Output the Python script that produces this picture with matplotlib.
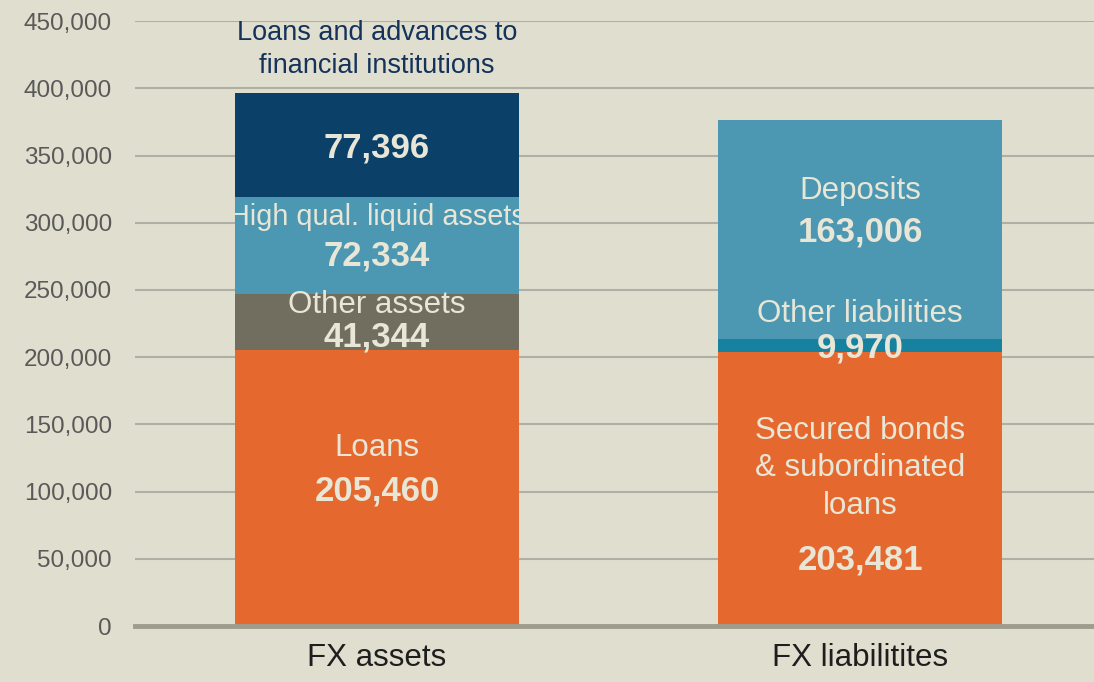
import numpy as np
import matplotlib.pyplot as plt
from matplotlib.ticker import FuncFormatter

plt.rcParams["font.family"] = ["Liberation Sans", "DejaVu Sans"]

# ── data ──────────────────────────────────────────────────────────────────────
categories = ["FX assets", "FX liabilitites"]

asset_names  = ["Loans", "Other assets", "High qual. liquid assets",
                "Loans and advances to\nfinancial institutions"]
asset_values = [205460, 41344, 72334, 77396]

liab_names  = ["Secured bonds\n& subordinated\nloans", "Other liabilities", "Deposits"]
liab_values = [203481, 9970, 163006]

# ── style ─────────────────────────────────────────────────────────────────────
BG        = "#e0dfcf"
ORANGE    = "#e5692e"
NAVY      = "#0b4068"
TEAL      = "#4c98b2"
GREYSEG   = "#716e60"
DEEPTEAL  = "#17829f"
LABEL     = "#e8e6d6"

asset_colors = [ORANGE, GREYSEG, TEAL, NAVY]
liab_colors  = [ORANGE, DEEPTEAL, TEAL]

fig = plt.figure(figsize=(10.94, 6.82), dpi=100)
fig.patch.set_facecolor(BG)
ax = fig.add_axes([0.1234, 0.0821, 0.8766, 0.887])
ax.set_facecolor(BG)

width = 0.588
x = np.arange(len(categories))

# stacked bars
asset_bars = []
bottom = 0
for v, c in zip(asset_values, asset_colors):
    asset_bars.append(ax.bar(x[0], v, width, bottom=bottom, color=c, zorder=3)[0])
    bottom += v
bottom = 0
for v, c in zip(liab_values, liab_colors):
    ax.bar(x[1], v, width, bottom=bottom, color=c, zorder=3)
    bottom += v

# ── segment labels ────────────────────────────────────────────────────────────
a_start = np.concatenate([[0], np.cumsum(asset_values)[:-1]])
a_mid   = a_start + np.array(asset_values) / 2
l_start = np.concatenate([[0], np.cumsum(liab_values)[:-1]])
l_mid   = l_start + np.array(liab_values) / 2

name_kw = dict(ha="center", va="center", color=LABEL, fontsize=22.5, zorder=4)
num_kw  = dict(ha="center", va="center", color=LABEL, fontsize=25,
               fontweight="bold", zorder=4)
d = -2000  # small vertical nudge

# loans
ax.text(x[0], a_mid[0] + 32000 + d, asset_names[0], **name_kw)
ax.text(x[0], a_mid[0] + d, f"{asset_values[0]:,}", **num_kw)
# other assets
ax.text(x[0], a_mid[1] + 15000 + d, asset_names[1], **name_kw)
ax.text(x[0], a_mid[1] - 9500 + d, f"{asset_values[1]:,}", **num_kw)
# hqla (clipped to its bar, as in the original)
t = ax.text(x[0], a_mid[2] + 23000 + d, asset_names[2], clip_on=True,
            **{**name_kw, "fontsize": 20.8})
t.set_clip_path(asset_bars[2])
ax.text(x[0], a_mid[2] - 5500 + d, f"{asset_values[2]:,}", **num_kw)
# loans to FI
ax.text(x[0], a_mid[3] + d, f"{asset_values[3]:,}", **num_kw)
ax.text(x[0], 429000, asset_names[3], ha="center", va="center",
        color="#14325a", fontsize=19.5, linespacing=1.35, zorder=4)

# liabilities
ax.text(x[1], a_mid[0] + 14500, liab_names[0], linespacing=1.32, **name_kw)
ax.text(x[1], l_mid[0] - 51000 + d, f"{liab_values[0]:,}", **num_kw)
ax.text(x[1], l_mid[1] + 26000 + d, liab_names[1], **name_kw)
ax.text(x[1], l_mid[1] + d, f"{liab_values[1]:,}", **num_kw)
ax.text(x[1], l_mid[2] + 31000 + d, liab_names[2], **name_kw)
ax.text(x[1], l_mid[2] + d, f"{liab_values[2]:,}", **num_kw)

# ── axes ──────────────────────────────────────────────────────────────────────
ax.set_xlim(-0.501, 1.484)
ax.set_ylim(0, 450000)
ax.set_yticks(np.arange(0, 450001, 50000))
ax.yaxis.set_major_formatter(FuncFormatter(lambda v, p: f"{int(v):,}"))
ax.set_xticks(x)
ax.set_xticklabels(categories, fontsize=22.5, color="#1e1e1e")
ax.tick_params(axis="y", length=0, labelsize=17.5, labelcolor="#595959", pad=16.5)
ax.tick_params(axis="x", length=0, pad=12)

ax.grid(axis="y", color="#b0afa6", linewidth=1.5, zorder=0)
ax.set_axisbelow(True)
for s in ("top", "right", "left"):
    ax.spines[s].set_visible(False)
ax.spines["bottom"].set_color("#9e9c8c")
ax.spines["bottom"].set_linewidth(3.5)
ax.spines["bottom"].set_zorder(5)

fig.savefig("out.png", dpi=100, facecolor=BG)
